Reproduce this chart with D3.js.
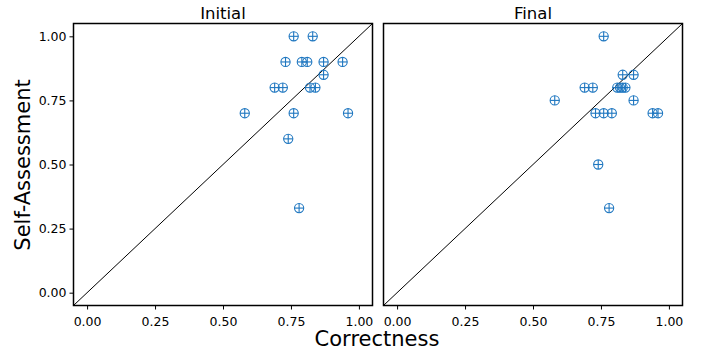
<!DOCTYPE html>
<html><head><meta charset="utf-8">
<script src="https://cdn.jsdelivr.net/npm/d3@7"></script>
<style>body{margin:0;background:#fff}svg{display:block}text{font-family:"DejaVu Sans",sans-serif}</style>
</head><body>
<svg id="c" width="702" height="353"></svg>
<script>
const panelTitles = ["Initial", "Final"];
const initialCorrectness = [0.76,0.83,0.73,0.79,0.81,0.87,0.94,0.87,0.69,0.72,0.82,0.84,0.58,0.76,0.96,0.74,0.78];
const initialSelf        = [1.00,1.00,0.90,0.90,0.90,0.90,0.90,0.85,0.80,0.80,0.80,0.80,0.70,0.70,0.70,0.60,0.33];
const finalCorrectness = [0.76,0.83,0.87,0.69,0.72,0.81,0.82,0.83,0.84,0.58,0.87,0.73,0.76,0.79,0.94,0.96,0.74,0.78];
const finalSelf        = [1.00,0.85,0.85,0.80,0.80,0.80,0.80,0.80,0.80,0.75,0.75,0.70,0.70,0.70,0.70,0.70,0.50,0.33];
const tickValues = [0, 0.25, 0.5, 0.75, 1.0];

(function () {
const svg = d3.select("#c");
const plotTop = 23.5, plotBottom = 305.5;
const panels = [
  {x0: 73.5, x1: 372.5, xs: initialCorrectness, ys: initialSelf, yTicks: true},
  {x0: 383.5, x1: 682.5, xs: finalCorrectness, ys: finalSelf, yTicks: false}
];
const y = d3.scaleLinear().domain([-0.05, 1.05]).range([plotBottom, plotTop]);
const color = "#1f77c0";

panels.forEach((p, i) => {
  const x = d3.scaleLinear().domain([-0.05, 1.05]).range([p.x0, p.x1]);
  const g = svg.append("g");
  g.append("line").attr("x1", x(-0.05)).attr("y1", y(-0.05)).attr("x2", x(1.05)).attr("y2", y(1.05))
    .attr("stroke", "#000").attr("stroke-width", 1);
  const pts = g.append("g").selectAll("g").data(p.xs.map((v, k) => [v, p.ys[k]])).join("g")
    .attr("transform", d => `translate(${x(d[0])},${y(d[1])})`)
    .attr("stroke", color).attr("stroke-width", 1.1).attr("fill", "none");
  pts.append("circle").attr("r", 4.6);
  pts.append("line").attr("x1", -4.6).attr("x2", 4.6).attr("y1", 0).attr("y2", 0);
  pts.append("line").attr("y1", -4.6).attr("y2", 4.6).attr("x1", 0).attr("x2", 0);
  const xa = g.append("g").attr("transform", `translate(0,${plotBottom})`)
    .call(d3.axisBottom(x).tickValues(tickValues).tickFormat(d3.format(".2f")).tickSize(4).tickSizeOuter(0));
  xa.select(".domain").remove();
  xa.selectAll("text").attr("font-size", 12.5).attr("font-family", "DejaVu Sans").attr("fill", "#000").attr("y", 11.5);
  if (p.yTicks) {
    const ya = g.append("g").attr("transform", `translate(${p.x0},0)`)
      .call(d3.axisLeft(y).tickValues(tickValues).tickFormat(d3.format(".2f")).tickSize(4).tickSizeOuter(0));
    ya.select(".domain").remove();
    ya.selectAll("text").attr("font-size", 12.5).attr("font-family", "DejaVu Sans").attr("x", -7).attr("fill", "#000");
  }
  g.append("rect").attr("x", p.x0).attr("y", plotTop).attr("width", p.x1 - p.x0).attr("height", plotBottom - plotTop)
    .attr("fill", "none").attr("stroke", "#000").attr("stroke-width", 1.5);
  g.append("text").attr("x", (p.x0 + p.x1) / 2).attr("y", 19).attr("text-anchor", "middle")
    .attr("font-size", 16.5).text(panelTitles[i]);
});

svg.append("text").attr("x", 377).attr("y", 346).attr("text-anchor", "middle").attr("font-size", 21).text("Correctness");
svg.append("text").attr("transform", "translate(30,165) rotate(-90)").attr("text-anchor", "middle").attr("font-size", 21).text("Self-Assessment");
})();
</script>
</body></html>
